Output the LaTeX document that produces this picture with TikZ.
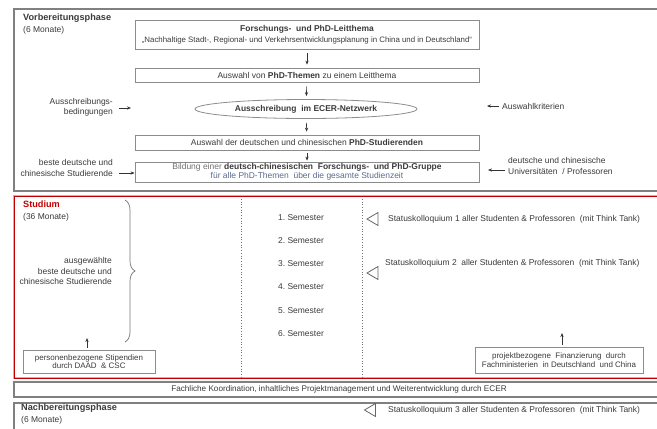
\documentclass[tikz,border=0pt]{standalone}
\usepackage{fontspec}
\setmainfont{Liberation Sans}
\usetikzlibrary{arrows.meta,shapes.geometric,decorations.pathreplacing}
\definecolor{txt}{HTML}{3A3A3A}
\definecolor{lighttxt}{HTML}{707070}
\definecolor{frame}{HTML}{8C8C8C}
\definecolor{phase}{HTML}{808080}
\definecolor{studred}{HTML}{C00000}
\definecolor{bluegray}{HTML}{5A6A8C}
\newcommand{\fs}[1]{\fontsize{#1}{#1}\selectfont}
\begin{document}
\begin{tikzpicture}[x=1bp,y=-1bp,
  every node/.style={text=txt, font=\fs{8.5}, inner sep=0pt},
  phasebox/.style={draw=phase, line width=1.6bp},
  stepbox/.style={draw=frame, line width=0.8bp, align=center},
  arr/.style={-{Stealth[length=4bp,width=3.2bp]}, line width=0.6bp, draw=black!80},
  label/.style={align=#1, font=\fs{8.5}\linespread{1.2}\selectfont},
  phasetitle/.style={anchor=north west, align=left, font=\fs{8.5}\linespread{1.35}\selectfont},
  kolloq/.pic={\draw[draw=black!60, line width=0.8bp, line join=miter]
    (5.5,-6.5) -- (-5.5,0) -- (5.5,6.5) -- cycle;}
]
\useasboundingbox (0,0) rectangle (657,428);

% phase frames
\draw[phasebox] (14,9) rectangle (664,191);
\draw[draw=gray!55, line width=2.8bp] (14,196) rectangle (664,378);
\draw[draw=studred, line width=1bp] (14,196) rectangle (664,378);
\draw[phasebox] (14,382) rectangle (664,397);
\draw[phasebox] (14,403) rectangle (664,444);

% ---- Vorbereitungsphase ----
\node[phasetitle] (prep) at (23,14)
  {\textbf{\fs{9.2}Vorbereitungsphase}\\(6 Monate)};

\node[stepbox, minimum width=344bp, minimum height=29bp] (leit) at (307,34.5)
  {\textbf{Forschungs-\ \ und PhD-Leitthema}\\[3bp]
   {\fs{7.9}„Nachhaltige Stadt-, Regional- und Verkehrsentwicklungsplanung in China und in Deutschland“}};
\node[stepbox, minimum width=344bp, minimum height=14bp] (themen) at (307,75)
  {Auswahl von \textbf{PhD-Themen} zu einem Leitthema};
\node[draw=frame, line width=0.8bp, ellipse, minimum width=222bp, minimum height=19bp]
  (aus) at (306,109) {\textbf{Ausschreibung\ \ im ECER-Netzwerk}};
\node[stepbox, minimum width=344bp, minimum height=15bp] (studw) at (307,142.5)
  {Auswahl der deutschen und chinesischen \textbf{PhD-Studierenden}};
\node[stepbox, minimum width=344bp, minimum height=20bp] (bild) at (307,172)
  {{\color{lighttxt}Bildung einer} \textbf{deutsch-chinesischen\ \ Forschungs-\ \ und PhD-Gruppe}\\[1bp]
   {\color{bluegray}für alle PhD-Themen\ \ über die gesamte Studienzeit}};

\draw[arr, shorten <=4bp, shorten >=3bp] (leit) -- (themen);
\draw[arr, shorten <=4bp, shorten >=3bp] (themen) -- (aus);
\draw[arr, shorten <=4bp, shorten >=3bp] (aus) -- (studw);
\draw[arr, shorten <=3bp, shorten >=1bp] (studw) -- (bild);

% inputs on the left
\node[anchor=east, label=right] (bed) at (113,107) {Ausschreibungs-\\bedingungen};
\coordinate (bedTip) at (131,108);
\draw[arr, shorten <=6bp] (bed.east |- bedTip) -- (bedTip);
\node[anchor=east, label=right] (best) at (113,168) {beste deutsche und\\chinesische Studierende};
\coordinate (bestTail) at (119,173);
\draw[arr] (bestTail) -- (bild.west |- bestTail);

% inputs on the right
\node[anchor=west] (krit) at (502,106) {Auswahlkriterien};
\coordinate (kritTip) at (487,106);
\draw[arr, shorten <=3bp] (krit.west) -- (kritTip);
\node[anchor=west, label=left] (uni) at (508,166)
  {deutsche und chinesische\\Universitäten\ \ / Professoren};
\coordinate (uniTail) at (505,170);
\coordinate (uniTip) at (488,170);
\draw[arr] (uniTail) -- (uniTip);

% ---- Studium ----
\node[phasetitle] (stud) at (23,201)
  {\textcolor{studred}{\textbf{\fs{9.2}Studium}}\\(36 Monate)};
\draw[decorate, decoration={brace, amplitude=10bp, aspect=0.5}, draw=black!55, line width=0.7bp]
  (125,200) -- (125,342);
\node[anchor=east, label=right] (ausg) at (112,271)
  {ausgewählte\\beste deutsche und\\chinesische Studierende};

\node[stepbox, font=\fs{8}, minimum width=132bp, minimum height=23bp] (stip) at (89,361.5)
  {personenbezogene Stipendien\\durch DAAD\ \ \& CSC};
\coordinate (stipTip) at (87,338);
\draw[arr, shorten <=2bp] (stip.north -| stipTip) -- (stipTip);

\draw[dotted, draw=black!55, line width=0.7bp] (241,199) -- (241,377);
\draw[dotted, draw=black!55, line width=0.7bp] (362,199) -- (362,377);

\foreach \i/\y in {1/218,2/241,3/264,4/287,5/311,6/334}
  \node (sem\i) at (301,\y) {\i.\ Semester};

\pic at (372.5,219) {kolloq};
\node[anchor=west] (st1) at (388,219)
  {Statuskolloquium 1 aller Studenten \& Professoren\ \ (mit Think Tank)};
\pic at (372.5,273) {kolloq};
\node[anchor=west] (st2) at (385,263)
  {Statuskolloquium 2\ \ aller Studenten \& Professoren\ \ (mit Think Tank)};

\node[stepbox, font=\fs{8}, minimum width=168bp, minimum height=26bp] (fin) at (559,360)
  {projektbezogene\ \ Finanzierung\ \ durch\\[1bp]Fachministerien\ \ in Deutschland\ \ und China};
\coordinate (finTip) at (562,333);
\draw[arr, shorten <=2bp] (fin.north -| finTip) -- (finTip);

% ---- coordination bar ----
\node[font=\fs{8.2}] (koord) at (339,389.5)
  {Fachliche Koordination, inhaltliches Projektmanagement und Weiterentwicklung durch ECER};

% ---- Nachbereitungsphase ----
\node[phasetitle] (post) at (21,404)
  {\textbf{\fs{9.2}Nachbereitungsphase}\\(6 Monate)};
\pic at (370,410) {kolloq};
\node[anchor=west] (st3) at (388,410)
  {Statuskolloquium 3 aller Studenten \& Professoren\ \ (mit Think Tank)};
\end{tikzpicture}
\end{document}
